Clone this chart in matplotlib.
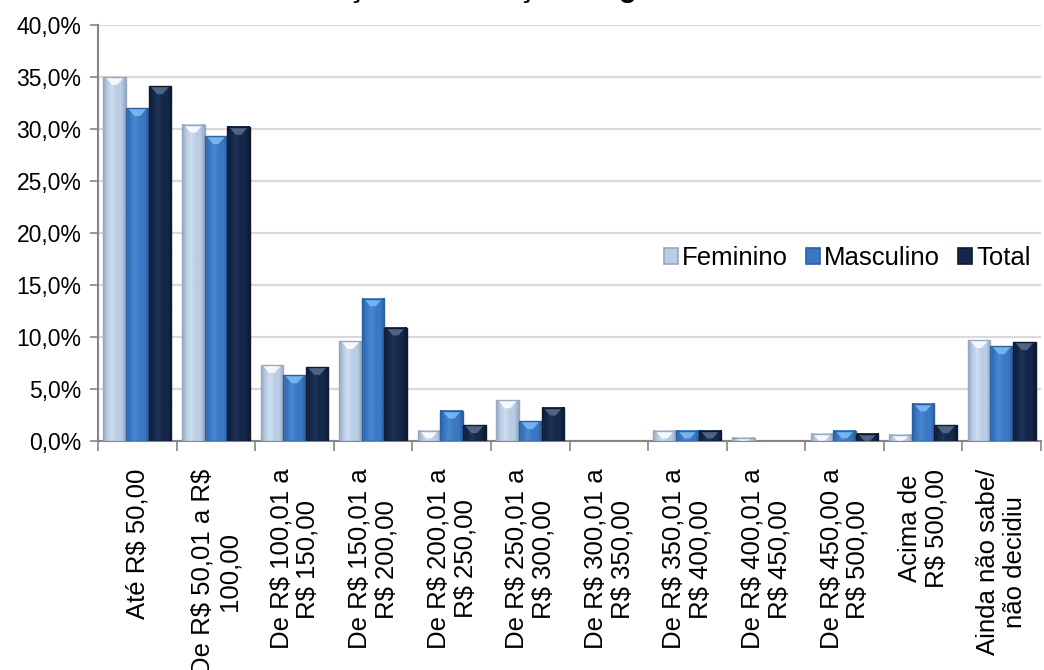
import numpy as np
import matplotlib
matplotlib.use('Agg')
import matplotlib.pyplot as plt
from matplotlib.colors import LinearSegmentedColormap
from matplotlib.patches import Polygon, Patch
from matplotlib.ticker import FuncFormatter, MultipleLocator

plt.rcParams['font.family'] = ['Liberation Sans', 'DejaVu Sans']

categories = ['Até R$ 50,00', 'De R$ 50,01 a R$\n100,00', 'De R$ 100,01 a\nR$ 150,00',
              'De R$ 150,01 a\nR$ 200,00', 'De R$ 200,01 a\nR$ 250,00', 'De R$ 250,01 a\nR$ 300,00',
              'De R$ 300,01 a\nR$ 350,00', 'De R$ 350,01 a\nR$ 400,00', 'De R$ 400,01 a\nR$ 450,00',
              'De R$ 450,00 a\nR$ 500,00', 'Acima de\nR$ 500,00', 'Ainda não sabe/\nnão decidiu']
feminino = [35.0, 30.4, 7.3, 9.6, 1.0, 3.9, 0.0, 1.0, 0.3, 0.7, 0.6, 9.7]
masculino = [32.0, 29.3, 6.3, 13.7, 2.9, 1.9, 0.0, 1.0, 0.0, 1.0, 3.6, 9.1]
total = [34.1, 30.2, 7.1, 10.9, 1.5, 3.2, 0.0, 1.0, 0.0, 0.7, 1.5, 9.5]
series_names = ['Feminino', 'Masculino', 'Total']

# edge, body, highlight, cap colour for each series
styles = [
    ('#97A8BF', '#BACDE6', '#CFDDF0', '#FFFFFF'),
    ('#2C5F9E', '#3A78C4', '#4A88D2', '#7DBDF5'),
    ('#0D1A30', '#15284A', '#1E3358', '#5A6F8E'),
]

fig = plt.figure(figsize=(10.44, 6.70), dpi=100)
ax = fig.add_axes([98 / 1044, 1 - 441 / 670, 943 / 1044, 416 / 670])

x = np.arange(len(categories))
w = 0.288
for i, (vals, name) in enumerate(zip([feminino, masculino, total], series_names)):
    edge, body, light, cap = styles[i]
    cmap = LinearSegmentedColormap.from_list(name, [edge, body, light, body, body, edge])
    grad = cmap(np.linspace(0, 1, 64))[np.newaxis, :, :]
    bars = ax.bar(x + (i - 1) * w, vals, w, color=body, linewidth=0, zorder=3)
    for b in bars:
        h = b.get_height()
        if h <= 0:
            continue
        x0, bw = b.get_x(), b.get_width()
        ax.imshow(grad, extent=(x0, x0 + bw, 0, h), aspect='auto', zorder=3.1,
                  interpolation='bilinear')
        ch = min(0.75, h)
        ax.add_patch(Polygon([(x0 + bw * 0.08, h), (x0 + bw * 0.92, h),
                              (x0 + bw * 0.62, h - ch), (x0 + bw * 0.38, h - ch)],
                             closed=True, facecolor=cap, edgecolor='none', alpha=0.85, zorder=3.2))
        ax.add_patch(plt.Rectangle((x0, 0), bw, h, facecolor='none', edgecolor=edge,
                                   linewidth=1.0, zorder=3.3))

ax.set_xlim(-0.5, len(categories) - 0.5)
ax.set_ylim(0, 40)
ax.yaxis.set_major_locator(MultipleLocator(5))
ax.yaxis.set_major_formatter(FuncFormatter(lambda v, p: f'{v:.1f}%'.replace('.', ',')))
ax.grid(axis='y', color='#D9D9D9', linewidth=1.6, zorder=0)
ax.set_axisbelow(True)

for s in ['top', 'right']:
    ax.spines[s].set_visible(False)
for s in ['left', 'bottom']:
    ax.spines[s].set_color('#868686')
    ax.spines[s].set_linewidth(1.5)

ax.set_xticks(x)
ax.set_xticklabels([c.replace('$', r'\$') for c in categories], rotation=90, fontsize=18.5,
                   ha='center', va='top', multialignment='center', linespacing=1.15)
ax.set_xticks(np.arange(-0.5, len(categories)), minor=True)
ax.tick_params(axis='x', which='major', length=0, pad=20)
ax.tick_params(axis='x', which='minor', length=7, width=1.2, color='#868686')
ax.tick_params(axis='y', length=6, width=1.2, color='#868686', labelsize=16.5, pad=6)

handles = [Patch(facecolor=st[1], edgecolor=st[0], linewidth=1.2) for st in styles]
ax.legend(handles, series_names, loc='center right', bbox_to_anchor=(1.0, 0.44), ncol=3,
          frameon=False, fontsize=18.5, handlelength=0.55, handleheight=0.55,
          handletextpad=0.15, columnspacing=0.7, borderaxespad=0)

# chart title sits above the top edge, only its descenders reach into the figure
fig.text(230 / 1044, 1 + 3 / 670, 'Distribuição da intenção de gasto médio', fontsize=21,
         fontweight='bold', ha='left', va='baseline')

fig.savefig('out.png', dpi=100)
